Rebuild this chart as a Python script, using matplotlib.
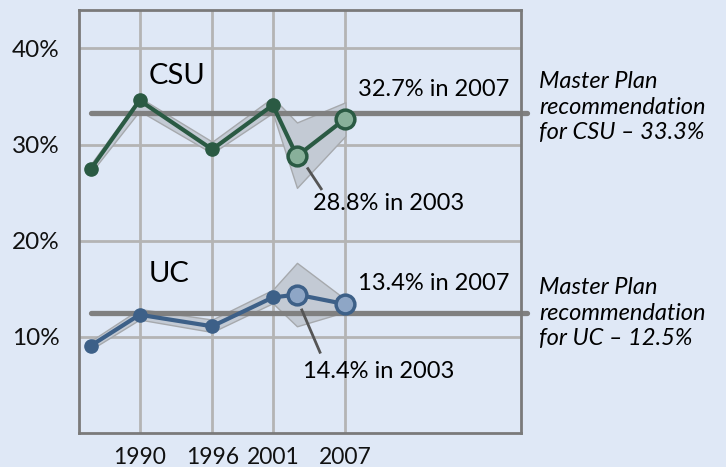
import matplotlib
matplotlib.use("Agg")
from matplotlib import pyplot as plt

years = [1986, 1990, 1996, 2001, 2003, 2007]
csu = [27.5, 34.6, 29.5, 34.1, 28.8, 32.7]
csu_hi = [28.0, 34.9, 30.3, 34.9, 32.3, 34.4]
csu_lo = [27.1, 33.5, 29.1, 33.3, 25.5, 30.9]
uc = [9.1, 12.3, 11.1, 14.1, 14.4, 13.4]
uc_hi = [9.6, 12.9, 11.8, 14.9, 17.7, 13.9]
uc_lo = [8.7, 11.8, 10.5, 13.5, 11.1, 12.6]
csu_target = 33.3
uc_target = 12.5
xticks = [1990, 1996, 2001, 2007]
yticks = [10, 20, 30, 40]

BG = "#dfe8f6"
GREEN = "#2a5a43"
GREEN_L = "#88b09a"
BLUE = "#3d6088"
BLUE_L = "#8ea6c6"

plt.rcParams["font.family"] = ["Lato", "DejaVu Sans"]

fig = plt.figure(figsize=(7.26, 4.67), dpi=100, facecolor=BG)
ax = fig.add_axes([79 / 726, 1 - 433 / 467, (521 - 79) / 726, (433 - 10) / 467])
ax.set_facecolor(BG)
ax.set_xlim(1985, 2021.5)
ax.set_ylim(0, 44)

# grid
for y in yticks:
    ax.axhline(y, color="#b4b4b4", lw=2, zorder=0)
for x in xticks:
    ax.axvline(x, color="#b4b4b4", lw=2, zorder=0)

for s in ax.spines.values():
    s.set_color("#7a7a7a")
    s.set_linewidth(2)
ax.set_xticks(xticks)
ax.set_xticklabels([str(x) for x in xticks])
ax.set_yticks(yticks)
ax.set_yticklabels(["%d%%" % y for y in yticks])
ax.tick_params(length=0, colors="#111111")
ax.tick_params(axis="x", pad=10, labelsize=16.5)
ax.tick_params(axis="y", pad=14, labelsize=17.5)

# uncertainty bands
for hi, lo in [(csu_hi, csu_lo), (uc_hi, uc_lo)]:
    ax.fill_between(years, lo, hi, facecolor="#c3cad4", edgecolor="#a6a9ad",
                    lw=1, zorder=1)

# master plan lines
for t in [csu_target, uc_target]:
    ax.plot([years[0], 2022], [t, t], color="#808080", lw=3.8,
            solid_capstyle="round", zorder=2, clip_on=False)

# series
for vals, dark, light in [(csu, GREEN, GREEN_L), (uc, BLUE, BLUE_L)]:
    ax.plot(years, vals, color=dark, lw=3, zorder=3)
    ax.plot(years[:4], vals[:4], "o", color=dark, ms=9.5, zorder=4)
    ax.plot(years[4:], vals[4:], "o", mfc=light, mec=dark, mew=2.5, ms=13.5,
            zorder=4)

ax.text(1993.1, 37.1, "CSU", fontsize=21, ha="center", va="center")
ax.text(1992.4, 16.5, "UC", fontsize=21, ha="center", va="center")

ax.text(2008.0, 35.7, "32.7% in 2007", fontsize=17, va="center")
ax.text(2004.3, 23.9, "28.8% in 2003", fontsize=17, va="center")
ax.text(2008.0, 15.6, "13.4% in 2007", fontsize=17, va="center")
ax.text(2003.5, 6.4, "14.4% in 2003", fontsize=17, va="center")

ax.plot([2003.9, 2005.0], [27.5, 25.4], color="#555555", lw=2, zorder=5)
ax.plot([2003.4, 2004.9], [12.8, 8.4], color="#555555", lw=2, zorder=5)

fig.text(539 / 726, 1 - 107 / 467,
         "Master Plan\nrecommendation\nfor CSU \u2013 33.3%",
         fontsize=17, style="italic", va="center", linespacing=1.27)
fig.text(539 / 726, 1 - 313 / 467,
         "Master Plan\nrecommendation\nfor UC \u2013 12.5%",
         fontsize=17, style="italic", va="center", linespacing=1.27)

fig.savefig("out.png", dpi=100, facecolor=BG)
